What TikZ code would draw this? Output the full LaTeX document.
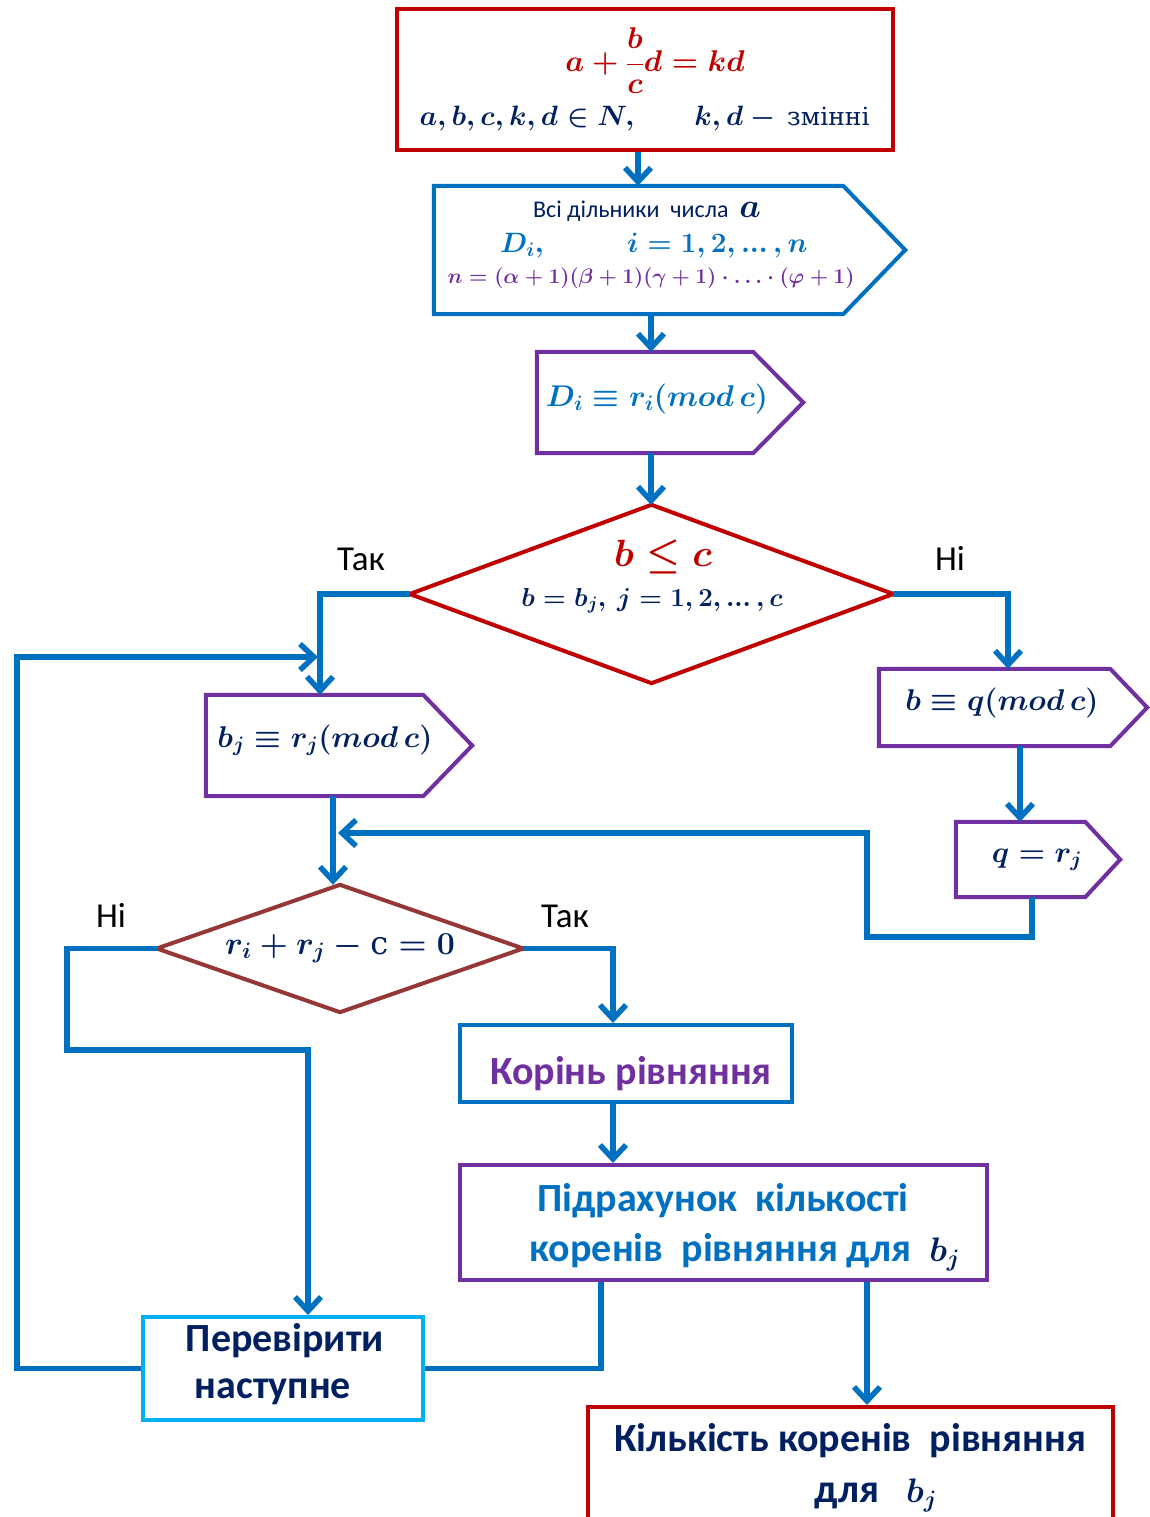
\RequirePackage{fix-cm}
\documentclass[tikz,border=0pt]{standalone}
\usepackage{fontspec}
\setmainfont{Carlito}
\newfontfamily\dvs{DejaVu Serif}
\usetikzlibrary{arrows.meta,calc}
\definecolor{cred}{HTML}{C00000}
\definecolor{cblue}{HTML}{0070C0}
\definecolor{cpurple}{HTML}{7030A0}
\definecolor{cnavy}{HTML}{002060}
\definecolor{cbrown}{HTML}{953735}
\definecolor{clight}{HTML}{00B0F0}
\newcommand\setfs[1]{\fontsize{#1pt}{#1pt}\selectfont}
\newcommand\tdots{\mathinner{\ldotp\mkern-3mu\ldotp\mkern-3mu\ldotp}}
\begin{document}
\boldmath
\begin{tikzpicture}[x=1pt,y=-1pt,
  frame/.style={rectangle,inner sep=0pt,line width=4pt},
  hid/.style={rectangle,inner sep=0pt,draw=none},
  outline/.style={line width=4pt},
  arr/.style={draw=cblue,line width=5.5pt,-{Straight Barb[length=14pt,width=26pt]}},
  ln/.style={draw=cblue,line width=5.5pt},
  tx/.style={inner sep=0pt,anchor=base},
  yn/.style={tx,font=\setfs{35},text=black},
  big/.style={tx,font=\setfs{40}\bfseries}]
\useasboundingbox (0,0) rectangle (1150,1517);
\fill[white] (0,0) rectangle (1150,1517);

% shapes
\node[frame,draw=cred,minimum width=496,minimum height=141] (b1) at (645,79.5) {};
\node[hid,minimum width=409,minimum height=128] (b2) at (638.5,250) {};
\draw[outline,draw=cblue] (b2.north west) -- (b2.north east) -- ($(b2.east)+(62,0)$) -- (b2.south east) -- (b2.south west) -- cycle;
\node[hid,minimum width=216,minimum height=101] (b3) at (645,402.5) {};
\draw[outline,draw=cpurple] (b3.north west) -- (b3.north east) -- ($(b3.east)+(50,0)$) -- (b3.south east) -- (b3.south west) -- cycle;
\node[hid,minimum width=483,minimum height=178] (d1) at (651.5,594) {};
\draw[outline,draw=cred] (d1.north) -- (d1.east) -- (d1.south) -- (d1.west) -- cycle;
\node[hid,minimum width=217,minimum height=101] (b4) at (314.5,745.5) {};
\draw[outline,draw=cpurple] (b4.north west) -- (b4.north east) -- ($(b4.east)+(49,0)$) -- (b4.south east) -- (b4.south west) -- cycle;
\node[hid,minimum width=231,minimum height=77] (b5) at (994.5,707.5) {};
\draw[outline,draw=cpurple] (b5.north west) -- (b5.north east) -- ($(b5.east)+(37,0)$) -- (b5.south east) -- (b5.south west) -- cycle;
\node[hid,minimum width=129,minimum height=75] (b6) at (1020.5,859.5) {};
\draw[outline,draw=cpurple] (b6.north west) -- (b6.north east) -- ($(b6.east)+(35,0)$) -- (b6.south east) -- (b6.south west) -- cycle;
\node[hid,minimum width=366,minimum height=127] (d2) at (340,948.5) {};
\draw[outline,draw=cbrown] (d2.north) -- (d2.east) -- (d2.south) -- (d2.west) -- cycle;
\node[frame,draw=cblue,minimum width=332,minimum height=77] (b8) at (626,1063.5) {};
\node[frame,draw=cpurple,minimum width=527,minimum height=115] (b9) at (723.5,1222.5) {};
\node[frame,draw=clight,minimum width=280,minimum height=103] (b7) at (283,1368.5) {};
\node[frame,draw=cred,minimum width=525,minimum height=153] (b10) at (850.5,1483.5) {};

% helper coordinates
\coordinate (xa) at (638,0);
\coordinate (xb) at (651,0);
\coordinate (xc) at (320,0);
\coordinate (xd) at (1008,0);
\coordinate (xe) at (1020,0);
\coordinate (xf) at (1032,0);
\coordinate (xg) at (333,0);
\coordinate (xh) at (308,0);
\coordinate (xi) at (613,0);
\coordinate (xj) at (601,0);
\coordinate (xk) at (867,0);
\coordinate (lp1) at (867,937);
\coordinate (m1) at (338,833);
\coordinate (lp2) at (67,1050);
\coordinate (lp3) at (17,657);
\coordinate (m2) at (318,657);

% connectors
\draw[arr] (b1.south -| xa) -- (b2.north -| xa);
\draw[arr] (b2.south -| xb) -- (b3.north -| xb);
\draw[arr] (b3.south -| xb) -- (d1.north -| xb);
\draw[arr] (d1.west) -| (b4.north -| xc);
\draw[arr] (d1.east) -| (b5.north -| xd);
\draw[arr] (b5.south -| xe) -- (b6.north -| xe);
\draw[arr] (b6.south -| xf) |- (lp1) |- (m1);
\draw[arr] (b4.south -| xg) -- (d2.north -| xg);
\draw[arr] (d2.west) -| (lp2) -| (b7.north -| xh);
\draw[arr] (d2.east) -| (b8.north -| xi);
\draw[arr] (b8.south -| xi) -- (b9.north -| xi);
\draw[ln] (b9.south -| xj) |- (b7.east);
\draw[arr] (b9.south -| xk) -- (b10.north -| xk);
\draw[arr] (b7.west) -| (lp3) -- (m2);

% texts
\node[inner sep=0pt,text=cred,font=\setfs{30}] (t1a) at (655,61) {$\displaystyle a+\frac{b}{c}d=kd$};
\node[tx,text=cnavy,font=\setfs{28}] (t1b) at (527,126) {$a,b,c,k,d\in N,$};
\node[tx,text=cnavy,font=\setfs{28}] (t1c) at (782,126) {$k,d-{}$\,{\dvs\setfs{25}змінні}};
\node[tx,text=cnavy,font=\setfs{24}] (t2a) at (647,218) {Всі дільники\ \ числа\ \ {\setfs{34}$a$}};
\node[tx,anchor=base west,text=cblue,font=\setfs{28}] (t2b) at (500,252) {$D_i,$};
\node[tx,anchor=base west,text=cblue,font=\setfs{28}] (t2c) at (627,252) {$i=1,2,\tdots,n$};
\node[tx,text=cpurple,font=\setfs{21}] (t2d) at (651,283) {$n=(\alpha+1)(\beta+1)(\gamma+1)\cdot\ldots\cdot(\varphi+1)$};
\node[tx,text=cblue,font=\setfs{30}] (t3) at (657,406) {$D_i\equiv r_i(mod\,c)$};
\node[tx,text=cred,font=\setfs{38}] (t4a) at (663,566) {$b\le c$};
\node[tx,text=cnavy,font=\setfs{26}] (t4b) at (652,606) {$b=b_j,\ j=1,2,\tdots,c$};
\node[tx,text=cnavy,font=\setfs{30}] (t5) at (325,747) {$b_j\equiv r_j(mod\,c)$};
\node[tx,text=cnavy,font=\setfs{30}] (t6) at (1002,710) {$b\equiv q(mod\,c)$};
\node[tx,text=cnavy,font=\setfs{30}] (t7) at (1037,862) {$q=r_j$};
\node[tx,text=cnavy,font=\setfs{32}] (t8) at (340,954) {$r_i+r_j-\mbox{\dvs c}=0$};
\node[yn] (y1) at (361,570) {Так};
\node[yn] (n1) at (950,570) {Ні};
\node[yn] (n2) at (111,927) {Ні};
\node[yn] (y2) at (565,927) {Так};
\node[big,text=cpurple] (t9) at (631,1084) {Корінь рівняння};
\node[big,text=cblue] (t10a) at (723,1211) {Підрахунок\ \ кількості};
\node[big,text=cblue] (t10b) at (745,1261) {коренів\ \ рівняння для\ \ {\color{cnavy}\setfs{34}$b_j$}};
\node[big,text=cnavy] (t11a) at (285,1351) {Перевірити};
\node[big,text=cnavy] (t11b) at (273,1398) {наступне};
\node[big,text=cnavy] (t12a) at (850,1451) {Кількість коренів\ \ рівняння};
\node[big,text=cnavy] (t12b) at (876,1502) {для\ \ \ {\setfs{34}$b_j$}};
\end{tikzpicture}
\end{document}
